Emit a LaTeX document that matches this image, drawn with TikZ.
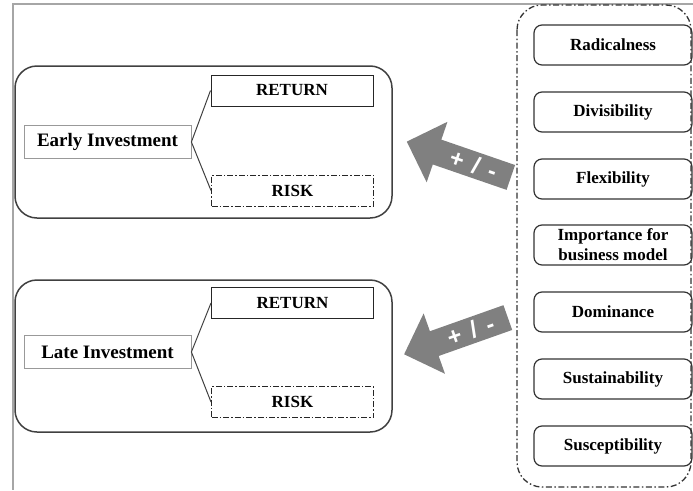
\documentclass[tikz,border=0pt]{standalone}
\usepackage{fontspec}
\setmainfont{Liberation Serif}
\newfontfamily\signfont{Liberation Sans}
\usepackage{tikz}
\usetikzlibrary{shapes.arrows,positioning}

\tikzset{
    phase/.style={draw=black!75, line width=1.5pt, rounded corners=22pt},
    invest/.style={draw=black!40, line width=0.8pt, minimum width=167pt, minimum height=33pt, inner sep=0pt,
        font=\fontsize{19}{22}\selectfont\bfseries},
    outcome/.style={draw=black!85, line width=1pt, minimum width=162pt, minimum height=31pt, inner sep=0pt,
        font=\fontsize{17}{20}\selectfont\bfseries},
    riskbox/.style={outcome, dash pattern=on 6pt off 2pt on 1.5pt off 2pt},
    factor/.style={draw=black!80, line width=1.2pt, rounded corners=8pt, minimum width=158pt, minimum height=40pt,
        inner sep=0pt, align=center, font=\fontsize{17}{20}\selectfont\bfseries},
    effect/.style={single arrow, fill=black!50, draw=none, shape border rotate=180, minimum height=110pt,
        minimum width=64pt, single arrow head extend=16pt, inner sep=2pt, text=white, anchor=tail,
        font=\signfont\fontsize{24}{24}\selectfont\bfseries},
}

\begin{document}
\begin{tikzpicture}[x=1pt, y=-1pt]
            \useasboundingbox (0,0) rectangle (693,490);
            % frame
            \draw[black!35, line width=1.5pt] (693,4) -- (13,4) -- (13,490);

            % early investment
            \draw[phase] (15,66) rectangle (392,218);
            \node[invest] (invEarly) at (107.5,142) {Early Investment};
            \node[outcome] (retEarly) at (292,90.5) {RETURN};
            \node[riskbox] (riskEarly) at (292.5,190.5) {RISK};
            \draw[black!75, line width=1pt] (retEarly.west) -- (invEarly.east) -- (riskEarly.west);

            % late investment
            \draw[phase] (15,280) rectangle (392,432);
            \node[invest] (invLate) at (107.5,352) {Late Investment};
            \node[outcome] (retLate) at (292.5,303) {RETURN};
            \node[riskbox] (riskLate) at (292.5,402) {RISK};
            \draw[black!75, line width=1pt] (retLate.west) -- (invLate.east) -- (riskLate.west);

            % characteristics
            \draw[black!80, line width=1.3pt, dash pattern=on 6pt off 2.5pt on 1.5pt off 2.5pt, rounded corners=25pt]
                (517,5) rectangle (691,487);
            \node[factor] (radical) at (613,45) {Radicalness};
            \node[factor] (divisible) at (613,112) {Divisibility};
            \node[factor] (flexible) at (613,179) {Flexibility};
            \node[factor] (importance) at (613,245) {Importance for\\business model};
            \node[factor] (dominance) at (613,312) {Dominance};
            \node[factor] (sustain) at (613,379) {Sustainability};
            \node[factor] (suscept) at (613,446) {Susceptibility};

            % effects
            \node[effect, rotate=-19] (effEarly) at (511,177.5) {\hspace{18pt}+\hspace{10pt}/\hspace{10pt}-};
            \node[effect, rotate=19.5] (effLate) at (508,317.5) {\hspace{18pt}+\hspace{10pt}/\hspace{10pt}-};
\end{tikzpicture}
\end{document}
